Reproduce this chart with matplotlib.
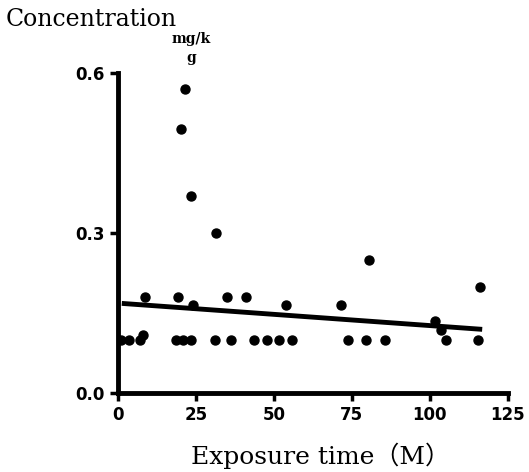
import numpy as np
import matplotlib.pyplot as plt

# exposure time (M) and concentration (mg/kg)
time = [21.5, 20.3, 23.5, 31.5,
        8.7, 19.3, 34.8, 41.2,
        24.2, 53.8, 71.5,
        1, 3.5, 7, 8, 18.5, 21, 23.5, 31.2, 36.4, 43.5, 47.7, 51.5, 55.7,
        73.8, 79.6, 85.7, 105.3, 115.5,
        80.5, 101.5, 103.7, 116]
conc = [0.57, 0.495, 0.37, 0.30,
        0.18, 0.18, 0.18, 0.18,
        0.165, 0.165, 0.165,
        0.10, 0.10, 0.10, 0.11, 0.10, 0.10, 0.10, 0.10, 0.10, 0.10, 0.10, 0.10, 0.10,
        0.10, 0.10, 0.10, 0.10, 0.10,
        0.25, 0.135, 0.118, 0.20]

# regression line ends
fit_x = [2, 116]
fit_y = [0.168, 0.120]

xticks = [0, 25, 50, 75, 100, 125]
yticks = [0.0, 0.3, 0.6]

fig = plt.figure(figsize=(5.29, 4.72), dpi=100)
ax = fig.add_axes([0.223, 0.167, 0.737, 0.678])

ax.scatter(time, conc, s=42, color='black', zorder=3)
ax.plot(fit_x, fit_y, color='black', lw=3.5, zorder=2)

ax.set_xlim(0, 125)
ax.set_ylim(0, 0.6)
ax.set_xticks(xticks)
ax.set_yticks(yticks)
ax.set_yticklabels(['0.0', '0.3', '0.6'])

for s in ['top', 'right']:
    ax.spines[s].set_visible(False)
for s in ['left', 'bottom']:
    ax.spines[s].set_linewidth(3.5)
ax.tick_params(width=2.5, length=6, direction='out', labelsize=12)
for lab in ax.get_xticklabels() + ax.get_yticklabels():
    lab.set_fontweight('heavy')

fig.text(0.01, 0.945, 'Concentration', family='DejaVu Serif', fontsize=17)
fig.text(0.361, 0.908, 'mg/k', fontsize=10, fontweight='bold', ha='center', family='DejaVu Serif')
fig.text(0.361, 0.868, 'g', fontsize=10, fontweight='bold', ha='center', family='DejaVu Serif')
fig.text(0.605, 0.018, 'Exposure time（M）', family=['DejaVu Serif', 'Noto Sans CJK SC'],
         fontsize=18, ha='center')

fig.savefig('out.png', dpi=100)
